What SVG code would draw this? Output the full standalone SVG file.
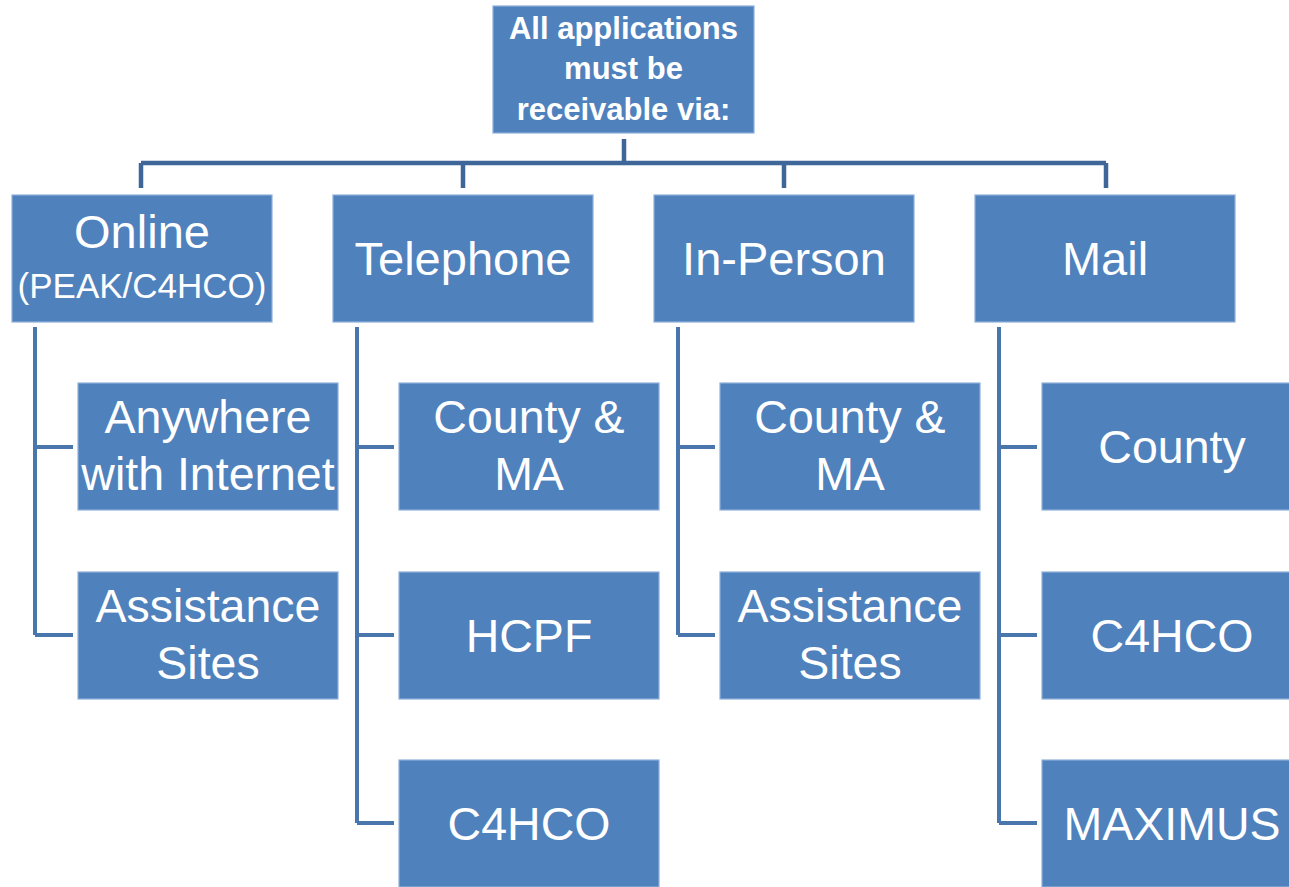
<svg xmlns="http://www.w3.org/2000/svg" width="1289" height="887" viewBox="0 0 1289 887">
<style>
.box{fill:#4F81BD;stroke:#8FB0DA;stroke-width:1.2}
.t{fill:#FFFFFF;font-family:"Liberation Sans",Arial,sans-serif;font-size:47px;text-anchor:middle}
.c{fill:#FFFFFF;font-family:"Liberation Sans",Arial,sans-serif;font-size:46.5px;text-anchor:middle}
.b{fill:#FFFFFF;font-family:"Liberation Sans",Arial,sans-serif;font-size:31px;font-weight:bold;text-anchor:middle}
.top{fill:none;stroke:#3F6699;stroke-width:4.5}
.ch{fill:none;stroke:#4A76AE;stroke-width:4}
</style>
<rect width="1289" height="887" fill="#FFFFFF"/>
<g id="connectors">
<path class="top" d="M624 139V163M141 163H1106M141 163V188M463 163V188M784 163V188M1106 163V188"/>
<path class="ch" d="M35 327V635M35 447H73M35 635H73"/>
<path class="ch" d="M357 327V823M357 447H394M357 635H394M357 823H394"/>
<path class="ch" d="M678 327V635M678 447H715M678 635H715"/>
<path class="ch" d="M999 327V823M999 447H1037M999 635H1037M999 823H1037"/>
</g>
<g id="root">
<rect class="box" x="493" y="6" width="261" height="127"/>
<text class="b" x="623.5" y="39">All applications</text>
<text class="b" x="623.5" y="79">must be</text>
<text class="b" x="623.5" y="120">receivable via:</text>
</g>
<g id="online">
<rect class="box" x="12" y="195" width="260" height="127"/>
<text class="t" x="142" y="248">Online</text>
<text class="t" x="142" y="298" style="font-size:35px">(PEAK/C4HCO)</text>
</g>
<g id="telephone">
<rect class="box" x="333" y="195" width="260" height="127"/>
<text class="t" x="463" y="275">Telephone</text>
</g>
<g id="inperson">
<rect class="box" x="654" y="195" width="260" height="127"/>
<text class="t" x="784" y="275">In-Person</text>
</g>
<g id="mail">
<rect class="box" x="975" y="195" width="260" height="127"/>
<text class="t" x="1105" y="275">Mail</text>
</g>
<g id="online-anywhere">
<rect class="box" x="78" y="383" width="260" height="127"/>
<text class="c" x="208" y="433">Anywhere</text>
<text class="c" x="208" y="490">with Internet</text>
</g>
<g id="online-assist">
<rect class="box" x="78" y="572" width="260" height="127"/>
<text class="c" x="208" y="622">Assistance</text>
<text class="c" x="208" y="679">Sites</text>
</g>
<g id="tel-county">
<rect class="box" x="399" y="383" width="260" height="127"/>
<text class="c" x="529" y="433">County &amp;</text>
<text class="c" x="529" y="490">MA</text>
</g>
<g id="tel-hcpf">
<rect class="box" x="399" y="572" width="260" height="127"/>
<text class="c" x="529" y="652">HCPF</text>
</g>
<g id="tel-c4hco">
<rect class="box" x="399" y="760" width="260" height="127"/>
<text class="c" x="529" y="840">C4HCO</text>
</g>
<g id="inp-county">
<rect class="box" x="720" y="383" width="260" height="127"/>
<text class="c" x="850" y="433">County &amp;</text>
<text class="c" x="850" y="490">MA</text>
</g>
<g id="inp-assist">
<rect class="box" x="720" y="572" width="260" height="127"/>
<text class="c" x="850" y="622">Assistance</text>
<text class="c" x="850" y="679">Sites</text>
</g>
<g id="mail-county">
<rect class="box" x="1042" y="383" width="260" height="127"/>
<text class="c" x="1172" y="463">County</text>
</g>
<g id="mail-c4hco">
<rect class="box" x="1042" y="572" width="260" height="127"/>
<text class="c" x="1172" y="652">C4HCO</text>
</g>
<g id="mail-maximus">
<rect class="box" x="1042" y="760" width="260" height="127"/>
<text class="c" x="1172" y="840">MAXIMUS</text>
</g>
</svg>
